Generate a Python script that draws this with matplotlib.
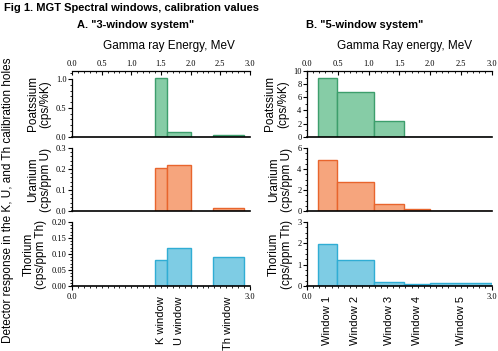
import numpy as np
import matplotlib
matplotlib.use("Agg")
import matplotlib.pyplot as plt
from matplotlib.ticker import MultipleLocator

plt.rcParams['font.family'] = ['Liberation Sans', 'DejaVu Sans']

# 3-window system (MeV edges)
win3_names = ["K window", "U window", "Th window"]
win3_lo = [1.40, 1.60, 2.37]
win3_hi = [1.60, 2.00, 2.90]
k3 = [1.01, 0.08, 0.03]
u3 = [0.207, 0.218, 0.013]
th3 = [0.082, 0.118, 0.091]

# 5-window system
win5_names = ["Window 1", "Window 2", "Window 3", "Window 4", "Window 5"]
win5_lo = [0.18, 0.48, 1.09, 1.58, 2.00]
win5_hi = [0.48, 1.09, 1.58, 2.00, 3.00]
k5 = [9.0, 6.8, 2.4, 0.0, 0.0]
u5 = [4.85, 2.8, 0.63, 0.19, 0.0]
th5 = [1.95, 1.2, 0.19, 0.11, 0.16]

green = ('#86cca6', '#3d9e6c')
orange = ('#f6a57d', '#e8652d')
blue = ('#7ecce4', '#30add4')

W, H = 498, 351
fig = plt.figure(figsize=(W / 100, H / 100), dpi=100)

def box(x0, x1, ytop, ybot):
    return [x0 / W, 1 - ybot / H, (x1 - x0) / W, (ybot - ytop) / H]

tickfont = dict(family='Liberation Serif', size=6)

def panel(rect, lo, hi, vals, col, ylim, ymaj, ymin, ylab, top=False, bottom_names=None, ybound=None):
    ax = fig.add_axes(rect)
    lo = np.array(lo)
    hi = np.array(hi)
    ax.bar(lo, vals, width=hi - lo, align='edge', color=col[0], edgecolor=col[1], linewidth=1.0)
    ax.set_xlim(0, 3.0)
    ax.set_ylim(*ylim)
    ax.spines['right'].set_visible(False)
    ax.spines['top'].set_visible(top)
    ax.spines['bottom'].set_linewidth(1.2)
    ax.spines['left'].set_linewidth(0.9)
    if ybound is not None:
        ax.spines['left'].set_bounds(*ybound)
    ax.yaxis.set_major_locator(MultipleLocator(ymaj))
    ax.yaxis.set_minor_locator(MultipleLocator(ymin))
    ax.tick_params(axis='y', which='major', length=3, width=0.8, pad=1)
    ax.tick_params(axis='y', which='minor', length=1.5, width=0.6)
    for t in ax.get_yticklabels():
        t.set_fontproperties(tickfont)
    ax.set_ylabel(ylab, fontsize=8.5, linespacing=1.1, labelpad=3)
    ax.xaxis.set_major_locator(MultipleLocator(0.5))
    ax.xaxis.set_minor_locator(MultipleLocator(0.1))
    if top:
        ax.tick_params(axis='x', which='both', top=True, labeltop=True, bottom=False,
                       labelbottom=False, direction='in', pad=2)
        ax.tick_params(axis='x', which='major', length=3, width=0.8)
        ax.tick_params(axis='x', which='minor', length=1.5, width=0.6)
        ax.spines['top'].set_linewidth(0.9)
        for t in ax.get_xticklabels():
            t.set_fontproperties(tickfont)
    elif bottom_names is not None:
        ax.tick_params(axis='x', which='both', direction='out', pad=2)
        ax.tick_params(axis='x', which='major', length=3, width=0.8)
        ax.tick_params(axis='x', which='minor', length=1.5, width=0.6)
        ax.set_xticks([0.0, 3.0])
        ax.set_xticklabels(['0.0', '3.0'])
        for t in ax.get_xticklabels():
            t.set_fontproperties(tickfont)
        mids = (lo + hi) / 2
        for m, name in zip(mids, bottom_names):
            ax.text(m, -0.16, name, transform=ax.get_xaxis_transform(), rotation=90,
                    ha='center', va='top', fontsize=8)
    else:
        ax.tick_params(axis='x', which='both', bottom=False, labelbottom=False)
    return ax

LX0, LX1 = 72, 250
RX0, RX1 = 307, 491.5
rows = [(71, 136.7), (148, 211), (222, 286)]

panel(box(LX0, LX1, *rows[0]), win3_lo, win3_hi, k3, green, (0, 1.14), 0.5, 0.1,
      "Poatssium\n(cps/%K)", top=True, ybound=(0, 1.0))
panel(box(LX0, LX1, *rows[1]), win3_lo, win3_hi, u3, orange, (0, 0.3), 0.1, 0.02,
      "Uranium\n(cps/ppm U)")
panel(box(LX0, LX1, *rows[2]), win3_lo, win3_hi, th3, blue, (0, 0.2), 0.05, 0.01,
      "Thorium\n(cps/ppm Th)", bottom_names=win3_names)

panel(box(RX0, RX1, *rows[0]), win5_lo, win5_hi, k5, green, (0, 10), 2, 1,
      "Poatssium\n(cps/%K)", top=True)
panel(box(RX0, RX1, *rows[1]), win5_lo, win5_hi, u5, orange, (0, 6), 2, 0.5,
      "Uranium\n(cps/ppm U)")
panel(box(RX0, RX1, *rows[2]), win5_lo, win5_hi, th5, blue, (0, 3), 1, 0.25,
      "Thorium\n(cps/ppm Th)", bottom_names=win5_names)

fig.text(4 / W, 1 - 8 / H, "Fig 1. MGT Spectral windows, calibration values",
         fontsize=8, fontweight='bold', va='center', ha='left')
fig.text(77 / W, 1 - 25 / H, 'A. "3-window system"', fontsize=8, fontweight='bold',
         va='center', ha='left')
fig.text(306 / W, 1 - 25 / H, 'B. "5-window system"', fontsize=8, fontweight='bold',
         va='center', ha='left')
fig.text(169 / W, 1 - 46 / H, "Gamma ray Energy, MeV", fontsize=8.5, va='center', ha='center')
fig.text(405 / W, 1 - 46 / H, "Gamma Ray energy, MeV", fontsize=8.5, va='center', ha='center')
fig.text(8 / W, 1 - 200 / H, "Detector response in the K, U, and Th calibration holes",
         fontsize=8.5, rotation=90, va='center', ha='center')

fig.savefig("out.png", dpi=100)
